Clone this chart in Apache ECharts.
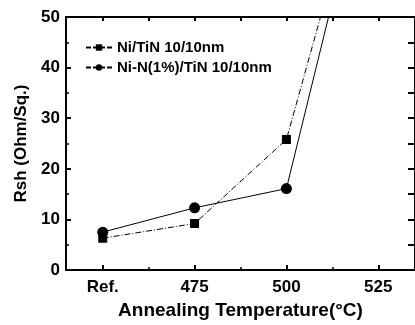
<!DOCTYPE html>
<html><head><meta charset="utf-8">
<script src="https://cdn.jsdelivr.net/npm/echarts@6/dist/echarts.min.js"></script>
<style>html,body{margin:0;padding:0;background:#fff}#c{width:415px;height:325px}</style>
</head><body><div id="c"></div>
<script>
// Data
var xPositions = [450, 475, 500, 525];           // x position of each sample
var xTickLabels = ['Ref.', '475', '500', '525'];  // label per position
var xMinorTicks = [462.5, 487.5, 512.5];
var seriesNames = ['Ni/TiN 10/10nm', 'Ni-N(1%)/TiN 10/10nm'];
var niTiN = [6.3, 9.2, 25.8, 91];
var niNTiN = [7.5, 12.3, 16.1, 90];

var FONT = '"Liberation Sans", Arial, sans-serif';
function pairs(v){ return xPositions.map(function(x,i){ return [x, v[i]]; }); }
var labelMap = {};
xPositions.forEach(function(x,i){ labelMap[x] = xTickLabels[i]; });

var chart = echarts.init(document.getElementById('c'), null, {renderer:'canvas'});
var axisLine = {show:true, lineStyle:{color:'#000', width:2}};
chart.setOption({
  animation:false,
  backgroundColor:'#fff',
  grid:{left:66, top:17, width:352, height:259, containLabel:false},
  legend:{
    left:80, top:35, orient:'vertical', itemGap:5, itemWidth:26, itemHeight:8,
    textStyle:{fontFamily:FONT, fontWeight:'bold', fontSize:15, color:'#000'},
    data:[
      {name:seriesNames[0], lineStyle:{type:[5,2]}},
      {name:seriesNames[1], lineStyle:{type:[5,2]}}
    ]
  },
  xAxis:[{
    type:'value', min:440, max:535, position:'bottom',
    axisLine:axisLine,
    axisTick:{show:true, inside:true, length:5, lineStyle:{color:'#000', width:2}, customValues:xPositions},
    axisLabel:{customValues:xPositions, formatter:function(v){return labelMap[v]||'';}, fontFamily:FONT, fontWeight:'bold', fontSize:17, color:'#000', margin:9},
    splitLine:{show:false},
    name:'Annealing Temperature(°C)', nameLocation:'middle', nameGap:30,
    nameTextStyle:{fontFamily:FONT, fontWeight:'bold', fontSize:19, color:'#000', padding:[0,0,0,0]}
  },{
    type:'value', min:440, max:535, position:'bottom',
    axisLine:{show:false},
    axisTick:{show:true, inside:true, length:3, lineStyle:{color:'#000', width:1.5}, customValues:xMinorTicks},
    axisLabel:{show:false}, splitLine:{show:false}
  },{
    type:'value', min:440, max:535, position:'top',
    axisLine:axisLine,
    axisTick:{show:true, inside:true, length:4, lineStyle:{color:'#000', width:2}, customValues:xPositions.concat(xMinorTicks)},
    axisLabel:{show:false}, splitLine:{show:false}
  }],
  yAxis:[{
    type:'value', min:0, max:50, interval:10, position:'left',
    axisLine:axisLine,
    axisTick:{show:true, inside:true, length:5, lineStyle:{color:'#000', width:2}},
    minorTick:{show:true, splitNumber:2, length:3, lineStyle:{color:'#000', width:1.5}},
    axisLabel:{fontFamily:FONT, fontWeight:'bold', fontSize:17, color:'#000', margin:6},
    splitLine:{show:false},
    name:'Rsh (Ohm/Sq.)', nameLocation:'middle', nameGap:34,
    nameTextStyle:{fontFamily:FONT, fontWeight:'bold', fontSize:17, color:'#000'}
  },{
    type:'value', min:0, max:50, interval:5, position:'right',
    axisLine:axisLine,
    axisTick:{show:true, inside:true, length:7, lineStyle:{color:'#000', width:2}},
    axisLabel:{show:false}, splitLine:{show:false}
  }],
  series:[{
    name:seriesNames[0], type:'line', xAxisIndex:0, yAxisIndex:0,
    data:pairs(niTiN), symbol:'rect', symbolSize:9,
    itemStyle:{color:'#000'},
    lineStyle:{color:'#000', width:1, type:[6,2,1,2]},
    clip:true
  },{
    name:seriesNames[1], type:'line', xAxisIndex:0, yAxisIndex:0,
    data:pairs(niNTiN), symbol:'circle', symbolSize:11,
    itemStyle:{color:'#000'},
    lineStyle:{color:'#000', width:1},
    clip:true
  }]
});
</script></body></html>
